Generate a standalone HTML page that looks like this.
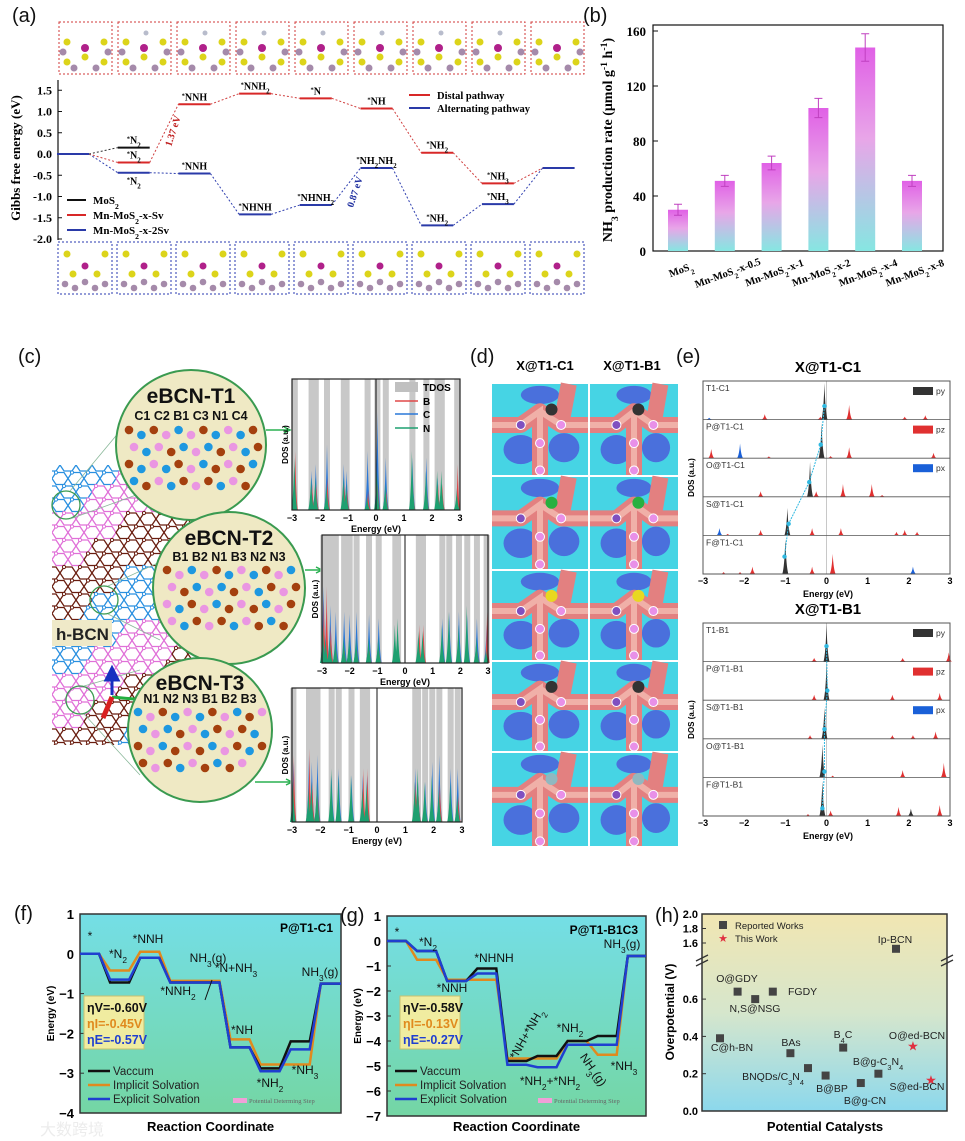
<!DOCTYPE html>
<html><head><meta charset="utf-8">
<style>
body{margin:0;background:#fff;width:965px;height:1141px;overflow:hidden}
svg{display:block;font-family:"Liberation Sans",sans-serif}
</style></head>
<body>
<svg id="fig" width="965" height="1141" viewBox="0 0 965 1141" xmlns="http://www.w3.org/2000/svg">
<defs>
<linearGradient id="barGrad" x1="0" y1="0" x2="0" y2="1"><stop offset="0" stop-color="#e060e6"/><stop offset="0.45" stop-color="#e8a6e8"/><stop offset="1" stop-color="#86e6e2"/></linearGradient>
<linearGradient id="fgBg" x1="0" y1="0" x2="0" y2="1"><stop offset="0" stop-color="#74dee6"/><stop offset="1" stop-color="#74d6a4"/></linearGradient>
<linearGradient id="hBg" x1="0" y1="0" x2="0" y2="1"><stop offset="0" stop-color="#f1e6b2"/><stop offset="0.5" stop-color="#d6e6cc"/><stop offset="1" stop-color="#8cd8ec"/></linearGradient>
<clipPath id="latClip"><rect x="52" y="465" width="140" height="280"/></clipPath>
</defs>
<g font-size="20" fill="#111">
<text x="12" y="22">(a)</text>
<text x="583" y="22">(b)</text>
<text x="18" y="363">(c)</text>
<text x="470" y="363">(d)</text>
<text x="676" y="363">(e)</text>
<text x="14" y="920">(f)</text>
<text x="340" y="922">(g)</text>
<text x="655" y="922">(h)</text>
</g>
</svg>
<script>
// ---------- data ----------
const aSteps = 9;
const aRed = [0, -0.2, 1.17, 1.42, 1.31, 1.07, 0.03, -0.69, -0.33];
const aBlue = [0, -0.44, -0.46, -1.42, -1.2, -0.33, -1.68, -1.18, -0.33];
const aBlack = [0, 0.15];
const aRedLabels = ['', '*N2', '*NNH', '*NNH2', '*N', '*NH', '*NH2', '*NH3', ''];
const aBlueLabels = ['', '*N2', '*NNH', '*NHNH', '*NHNH2', '*NH2NH2', '*NH2', '*NH3', ''];
const aTicks = [1.5, 1.0, 0.5, 0.0, -0.5, -1.0, -1.5, -2.0];

const bCats = ['MoS2', 'Mn-MoS2-x-0.5', 'Mn-MoS2-x-1', 'Mn-MoS2-x-2', 'Mn-MoS2-x-4', 'Mn-MoS2-x-8'];
const bVals = [30, 51, 64, 104, 148, 51];
const bErr = [4, 4, 5, 7, 10, 4];
const bTicks = [0, 40, 80, 120, 160];

const dos1E = [-2.9, -2.3, -2.15, -1.75, -1.15, -1.05, -0.3, 0.05, 0.35, 1.3, 1.8, 2.2, 2.35, 2.9];
const dos1B = [0.45, 0.2, 0.2, 0.25, 0.2, 0.15, 0.15, 0.2, 0.15, 0.2, 0.15, 0.2, 0.2, 0.35];
const dos1C = [0.3, 0.3, 0.35, 0.5, 0.35, 0.3, 0.45, 0.75, 0.4, 0.4, 0.4, 0.25, 0.2, 0.2];
const dos1N = [0.4, 0.25, 0.25, 0.2, 0.25, 0.2, 0.1, 0.3, 0.2, 0.45, 0.3, 0.3, 0.3, 0.15];
const dos2E = [-2.95, -2.85, -2.7, -2.5, -2.2, -2.0, -1.75, -1.3, -0.95, -0.35, -0.25, 0.5, 0.65, 1.35, 1.6, 1.95, 2.25, 2.6, 2.95];
const dos2B = [0.5, 0.6, 0.3, 0.1, 0.1, 0.1, 0.1, 0.1, 0.1, 0.1, 0.1, 0.3, 0.3, 0.1, 0.1, 0.1, 0.1, 0.1, 0.4];
const dos2C = [0.6, 0.4, 0.45, 0.4, 0.4, 0.38, 0.4, 0.38, 0.35, 0.1, 0.1, 0.2, 0.2, 0.35, 0.4, 0.4, 0.38, 0.35, 0.3];
const dos2N = [0.3, 0.2, 0.2, 0.2, 0.2, 0.2, 0.2, 0.2, 0.2, 0.3, 0.35, 0.25, 0.25, 0.3, 0.4, 0.3, 0.45, 0.2, 0.1];
const dos3E = [-2.95, -2.4, -2.3, -2.1, -1.6, -1.35, -0.9, -0.5, -0.35, 1.35, 1.45, 1.7, 1.95, 2.2, 2.6, 2.85];
const dos3B = [0.5, 0.55, 0.3, 0.2, 0.1, 0.1, 0.1, 0.4, 0.4, 0.3, 0.2, 0.1, 0.1, 0.3, 0.1, 0.2];
const dos3C = [0.45, 0.5, 0.45, 0.5, 0.35, 0.4, 0.35, 0.35, 0.35, 0.4, 0.3, 0.3, 0.45, 0.5, 0.4, 0.4];
const dos3N = [0.3, 0.25, 0.3, 0.3, 0.4, 0.35, 0.35, 0.25, 0.3, 0.3, 0.4, 0.3, 0.35, 0.25, 0.3, 0.2];

const eC1Names = ['T1-C1', 'P@T1-C1', 'O@T1-C1', 'S@T1-C1', 'F@T1-C1'];
const eC1Py = [[[-0.05, 1.0]], [[-0.12, 0.95]], [[-0.4, 0.95]], [[-0.95, 0.75]], [[-1.0, 0.95]]];
const eC1Pz = [[[-1.5, 0.15], [0.55, 0.4], [1.9, 0.08], [2.4, 0.12], [-0.15, 0.08]],
  [[-2.8, 0.25], [-1.4, 0.05], [0.1, 0.06], [0.55, 0.3], [2.6, 0.15]],
  [[-1.6, 0.15], [-0.25, 0.15], [0.4, 0.35], [1.1, 0.35], [1.35, 0.05]],
  [[-2.4, 0.04], [-1.6, 0.15], [-0.35, 0.2], [0.35, 0.2], [1.7, 0.1], [1.9, 0.15], [2.2, 0.1]],
  [[-2.5, 0.05], [-2.1, 0.05], [-1.8, 0.2], [-0.35, 0.2], [0.15, 0.55]]];
const eC1Px = [[[-2.85, 0.05]], [[-2.1, 0.4]], [[-0.4, 0.15]], [[-2.6, 0.2]], [[-1.0, 0.5], [2.1, 0.2]]];
const eC1Dot = [[-0.05, 0.35], [-0.14, 0.35], [-0.42, 0.38], [-0.92, 0.3], [-1.02, 0.45]];
const eB1Names = ['T1-B1', 'P@T1-B1', 'S@T1-B1', 'O@T1-B1', 'F@T1-B1'];
const eB1Py = [[[0, 1.0]], [[0, 0.95]], [[-0.05, 0.85]], [[-0.1, 0.9]], [[-0.1, 0.95], [2.05, 0.2]]];
const eB1Pz = [[[-0.3, 0.1], [1.85, 0.1], [2.97, 0.25]], [[-0.3, 0.15], [1.6, 0.15], [2.75, 0.2]],
  [[-0.4, 0.1], [1.6, 0.1], [2.1, 0.1], [2.65, 0.2]], [[0.15, 0.05], [1.85, 0.2], [2.85, 0.4]],
  [[-0.45, 0.05], [0.1, 0.15], [1.75, 0.25], [2.75, 0.3]]];
const eB1Px = [[], [], [], [], [[-0.1, 0.3]]];
const eB1Dot = [[0, 0.4], [0.02, 0.25], [-0.05, 0.25], [-0.05, 0.15], [-0.1, 0.2]];
const eTicks = [-3, -2, -1, 0, 1, 2, 3];

const fVac = [0, -0.72, -0.1, -0.72, -0.72, -2.35, -2.88, -2.2, -0.75];
const fImp = [0, -0.42, 0.05, -0.68, -0.68, -2.15, -2.78, -2.78, -0.75];
const fExp = [0, -0.65, -0.1, -0.72, -0.72, -2.35, -2.95, -2.4, -0.75];
const fTicks = [1, 0, -1, -2, -3, -4];
const gVac = [0, -0.4, -1.6, -1.1, -4.8, -4.6, -4.0, -3.8, -0.6];
const gImp = [0, -0.75, -1.55, -1.55, -4.7, -4.7, -4.0, -4.55, -0.6];
const gExp = [0, -0.4, -1.6, -1.3, -4.95, -5.05, -4.15, -4.15, -0.6];
const gTicks = [1, 0, -1, -2, -3, -4, -5, -6, -7];

const hNames = ['C@h-BN', 'O@GDY', 'N,S@NSG', 'FGDY', 'BAs', 'BNQDs/C3N4', 'B@BP', 'B4C', 'B@g-CN', 'B@g-C3N4', 'Ip-BCN'];
const hVals = [0.39, 0.64, 0.60, 0.64, 0.31, 0.23, 0.19, 0.34, 0.15, 0.20, 1.52];
const hStarNames = ['O@ed-BCN', 'S@ed-BCN'];
const hStarVals = [0.35, 0.17];
const hTicksLow = [0.0, 0.2, 0.4, 0.6];
const hTicksHigh = [1.6, 1.8, 2.0];

// ---------- helpers ----------
const NS = 'http://www.w3.org/2000/svg';
const fig = document.getElementById('fig');
function shape(tag, attrs, name, parent) {
  const e = document.createElementNS(NS, tag);
  for (const k in attrs) e.setAttribute(k, attrs[k]);
  
  
  (parent || fig).appendChild(e);
  return e;
}
function group(name, parent) {
  const g = document.createElementNS(NS, 'g');
  
  
  (parent || fig).appendChild(g);
  return g;
}
function txt(x, y, html, attrs, name, parent) {
  const e = document.createElementNS(NS, 'text');
  e.setAttribute('x', x); e.setAttribute('y', y);
  for (const k in attrs) e.setAttribute(k, attrs[k]);
  
  
  e.innerHTML = html;
  (parent || fig).appendChild(e);
  return e;
}
function chem(s, supStar) {
  let out = s.replace(/([A-Za-z\)])(\d+)/g, '$1<tspan baseline-shift="sub" font-size="70%">$2</tspan>');
  if (supStar) out = out.replace(/\*/g, '<tspan baseline-shift="super" font-size="65%">*</tspan>');
  return out;
}
function peak(x, base, h, w, fill, name, p) {
  return shape('path', {d: `M${x - w} ${base} Q${x - w * 0.3} ${base - h * 0.2} ${x} ${base - h} Q${x + w * 0.3} ${base - h * 0.2} ${x + w} ${base} Z`, fill: fill}, name, p);
}

// ---------- panel (a) ----------
const pa = group('panel-a-energy-diagram');
const yA = v => 154 - v * 42.5;
const xA = i => 57 + i * 60.7;
const wA = 32;
for (let i = 0; i < aSteps; i++) {
  const bx = 59 + i * 59, gt = group('structure-top-' + i, pa), gb = group('structure-bottom-' + i, pa);
  shape('rect', {x: bx, y: 22, width: 53, height: 52, fill: '#fff', stroke: '#d23a3a', 'stroke-dasharray': '2 2'}, 'distal-structure-box', gt);
  shape('rect', {x: bx - 1, y: 242, width: 54, height: 52, fill: '#fff', stroke: '#2a3ab0', 'stroke-dasharray': '2 2'}, 'alternating-structure-box', gb);
  [[8, 20], [45, 20], [26, 35], [8, 40], [45, 40]].forEach(p => shape('circle', {cx: bx + p[0], cy: 22 + p[1], r: 3.5, fill: '#dcd41a'}, 'atom', gt));
  shape('circle', {cx: bx + 26, cy: 22 + 26, r: 4, fill: '#b0208a'}, 'mn-atom', gt);
  [[4, 30], [49, 30], [15, 46], [37, 46]].forEach(p => shape('circle', {cx: bx + p[0], cy: 22 + p[1], r: 3.5, fill: '#a58aaa'}, 'atom', gt));
  if (i > 0 && i < 8) shape('circle', {cx: bx + 28, cy: 22 + 11, r: 2.5, fill: '#b8bccc'}, 'adsorbate-atom', gt);
  [[8, 12], [46, 12], [26, 24], [14, 32], [38, 32]].forEach((p, k) => shape('circle', {cx: bx + p[0], cy: 242 + p[1], r: 3.5, fill: k === 2 ? '#b0208a' : '#dcd41a'}, 'atom', gb));
  [[6, 42], [26, 40], [46, 42], [16, 46], [36, 46]].forEach(p => shape('circle', {cx: bx + p[0], cy: 242 + p[1], r: 3.3, fill: '#a58aaa'}, 'atom', gb));
}
shape('line', {x1: 58, y1: 80, x2: 58, y2: 240, stroke: '#111', 'stroke-width': 1.2}, 'a-y-axis', pa);
aTicks.forEach(t => {
  shape('line', {x1: 58, y1: yA(t), x2: 62, y2: yA(t), stroke: '#111'}, 'a-y-tick', pa);
  txt(52, yA(t) + 4, t.toFixed(1), {'font-family': 'Liberation Serif', 'font-weight': 'bold', 'font-size': 12, 'text-anchor': 'end'}, 'a-y-tick-label', pa);
});
txt(0, 0, 'Gibbs free energy (eV)', {'font-family': 'Liberation Serif', 'font-weight': 'bold', 'font-size': 13, 'text-anchor': 'middle', transform: 'translate(20,158) rotate(-90)'}, 'a-y-axis-title', pa);
for (let i = 0; i < aSteps - 1; i++) {
  shape('line', {x1: xA(i) + wA, y1: yA(aBlue[i]), x2: xA(i + 1), y2: yA(aBlue[i + 1]), stroke: '#3040b0', 'stroke-dasharray': '2 2'}, 'alternating-connector', pa);
  shape('line', {x1: xA(i) + wA, y1: yA(aRed[i]), x2: xA(i + 1), y2: yA(aRed[i + 1]), stroke: '#d04040', 'stroke-dasharray': '2 2'}, 'distal-connector', pa);
}
shape('line', {x1: xA(0) + wA, y1: yA(aBlack[0]), x2: xA(1), y2: yA(aBlack[1]), stroke: '#333', 'stroke-dasharray': '2 2'}, 'mos2-connector', pa);
for (let i = 0; i < aSteps; i++) {
  shape('line', {x1: xA(i), y1: yA(aBlue[i]), x2: xA(i) + wA, y2: yA(aBlue[i]), stroke: '#2a3aa8', 'stroke-width': 2}, 'alternating-level', pa);
  if (i > 0 && i < 8) shape('line', {x1: xA(i), y1: yA(aRed[i]), x2: xA(i) + wA, y2: yA(aRed[i]), stroke: '#d82828', 'stroke-width': 2}, 'distal-level', pa);
  const lbStyle = {'font-family': 'Liberation Serif', 'font-weight': 'bold', 'font-size': 10, 'text-anchor': 'middle'};
  if (aRedLabels[i]) txt(xA(i) + wA / 2, yA(aRed[i]) - 4, chem(aRedLabels[i], true), lbStyle, 'distal-level-label', pa);
  if (aBlueLabels[i]) txt(xA(i) + wA / 2, i === 1 ? yA(aBlue[i]) + 12 : yA(aBlue[i]) - 4, chem(aBlueLabels[i], true), lbStyle, 'alternating-level-label', pa);
}
shape('line', {x1: xA(1), y1: yA(aBlack[1]), x2: xA(1) + wA, y2: yA(aBlack[1]), stroke: '#111', 'stroke-width': 2}, 'mos2-level', pa);
txt(xA(1) + wA / 2, yA(aBlack[1]) - 4, chem('*N2', true), {'font-family': 'Liberation Serif', 'font-weight': 'bold', 'font-size': 10, 'text-anchor': 'middle'}, 'mos2-level-label', pa);
txt(0, 0, '1.37 eV', {'font-family': 'Liberation Serif', 'font-weight': 'bold', 'font-size': 10, fill: '#c02020', 'text-anchor': 'middle', transform: 'translate(176,132) rotate(-72)'}, 'distal-pds-label', pa);
txt(0, 0, '0.87 eV', {'font-family': 'Liberation Serif', 'font-weight': 'bold', 'font-size': 10, fill: '#2030a0', 'text-anchor': 'middle', transform: 'translate(358,193) rotate(-72)'}, 'alternating-pds-label', pa);
[['MoS2', '#111', 200], ['Mn-MoS2-x-Sv', '#d82828', 215], ['Mn-MoS2-x-2Sv', '#2a3aa8', 230]].forEach(l => {
  shape('line', {x1: 67, y1: l[2], x2: 86, y2: l[2], stroke: l[1], 'stroke-width': 2}, 'a-legend-line', pa);
  txt(93, l[2] + 4, chem(l[0], false), {'font-family': 'Liberation Serif', 'font-weight': 'bold', 'font-size': 11}, 'a-legend-label', pa);
});
[['Distal  pathway', '#d82828', 95], ['Alternating pathway', '#2a3aa8', 108]].forEach(l => {
  shape('line', {x1: 409, y1: l[2], x2: 430, y2: l[2], stroke: l[1], 'stroke-width': 2}, 'a-legend-line', pa);
  txt(437, l[2] + 4, l[0], {'font-family': 'Liberation Serif', 'font-weight': 'bold', 'font-size': 10.5}, 'a-legend-label', pa);
});

// ---------- panel (b) ----------
const pb = group('panel-b-bar-chart');
const yB = v => 251 - v * (220 / 160);
const xB = i => 678 + i * 46.8;
shape('rect', {x: 653, y: 25, width: 290, height: 226, fill: 'none', stroke: '#111', 'stroke-width': 1.2}, 'b-plot-frame', pb);
bTicks.forEach(t => {
  shape('line', {x1: 653, y1: yB(t), x2: 658, y2: yB(t), stroke: '#111'}, 'b-y-tick', pb);
  txt(646, yB(t) + 5, t, {'font-family': 'Liberation Serif', 'font-weight': 'bold', 'font-size': 13, 'text-anchor': 'end'}, 'b-y-tick-label', pb);
});
txt(0, 0, 'NH<tspan baseline-shift="sub" font-size="70%">3</tspan> production rate (μmol g<tspan baseline-shift="super" font-size="70%">-1</tspan> h<tspan baseline-shift="super" font-size="70%">-1</tspan>)', {'font-family': 'Liberation Serif', 'font-weight': 'bold', 'font-size': 14, 'text-anchor': 'middle', transform: 'translate(612,140) rotate(-90)'}, 'b-y-axis-title', pb);
bVals.forEach((v, i) => {
  shape('rect', {x: xB(i) - 10, y: yB(v), width: 20, height: 251 - yB(v), fill: 'url(#barGrad)'}, 'bar-' + i, pb);
  shape('path', {d: `M${xB(i)} ${yB(v + bErr[i])} V${yB(v - bErr[i])} M${xB(i) - 4} ${yB(v + bErr[i])} H${xB(i) + 4} M${xB(i) - 4} ${yB(v - bErr[i])} H${xB(i) + 4}`, stroke: '#c040c0', fill: 'none'}, 'error-bar', pb);
  txt(0, 0, chem(bCats[i], false), {'font-family': 'Liberation Serif', 'font-weight': 'bold', 'font-size': 10.5, 'text-anchor': 'middle', transform: `translate(${xB(i) + 4},${i === 0 ? 273 : 276}) rotate(-20)`}, 'b-category-label', pb);
});

// ---------- panel (c) ----------
const pc = group('panel-c-bcn');
const lat = group('h-bcn-lattice', pc);
lat.setAttribute('clip-path', 'url(#latClip)');
const latCols = ['#2a90e0', '#e070d8', '#6a1e10'];
for (let r = 0; r < 22; r++) {
  for (let c = 0; c < 10; c++) {
    const cx = 52 + c * 16 + (r % 2) * 8, cy = 465 + r * 13.5;
    const col = latCols[Math.floor(r / 4 + c / 5) % 3];
    shape('path', {d: `M${cx - 8} ${cy} L${cx - 4} ${cy - 6} L${cx + 4} ${cy - 6} L${cx + 8} ${cy} L${cx + 4} ${cy + 6} L${cx - 4} ${cy + 6} Z`, fill: 'none', stroke: col, 'stroke-width': 1.3}, 'lattice-ring', lat);
    shape('circle', {cx: cx - 4, cy: cy - 6, r: 1.6, fill: '#fff', stroke: col}, 'lattice-atom', lat);
  }
}
[[66, 505], [104, 600], [80, 700]].forEach(p => shape('circle', {cx: p[0], cy: p[1], r: 14, fill: 'none', stroke: '#3a9a50', 'stroke-width': 1.3}, 'lattice-highlight', pc));
shape('path', {d: 'M70 491 L150 395 M70 519 L150 490 M108 586 L175 555 M108 614 L160 640 M84 686 L140 670 M84 714 L140 775', stroke: '#8ab89a', 'stroke-width': 0.8, fill: 'none'}, 'zoom-guide-lines', pc);
shape('rect', {x: 52, y: 620, width: 60, height: 26, fill: '#efe9c8'}, 'h-bcn-label-bg', pc);
txt(56, 640, 'h-BCN', {'font-size': 17, 'font-weight': 'bold', fill: '#222'}, 'h-bcn-label', pc);
shape('path', {d: 'M112 695 V672 M106 680 L112 668 L118 680 Z', stroke: '#1830c0', fill: '#1830c0', 'stroke-width': 3}, 'axis-arrow-z', pc);
shape('path', {d: 'M112 697 L145 700 M140 694 L152 701 L140 707 Z', stroke: '#22b040', fill: '#22b040', 'stroke-width': 3}, 'axis-arrow-x', pc);
shape('path', {d: 'M112 697 L103 718', stroke: '#d82020', 'stroke-width': 5}, 'axis-arrow-y', pc);
const circ = [
  {cx: 191, cy: 445, r: 75, lab: 'C1 C2 B1 C3 N1 C4', ty: 403, ly: 420, ay: 430},
  {cx: 229, cy: 588, r: 76, lab: 'B1 B2 N1 B3 N2 N3', ty: 545, ly: 561, ay: 570},
  {cx: 200, cy: 730, r: 72, lab: 'N1 N2 N3 B1 B2 B3', ty: 690, ly: 703, ay: 712}];
const atomCol = {b: '#a4400e', c: '#1e98e0', p: '#ea96e2'};
const seq = 'bcbpcpbcpcbpcbpbcp';
circ.forEach((c, k) => {
  const g = group('ebcn-t' + (k + 1) + '-circle', pc);
  shape('circle', {cx: c.cx, cy: c.cy, r: c.r, fill: '#efe9c4', stroke: '#3a9a50', 'stroke-width': 2}, 'structure-circle', g);
  txt(c.cx, c.ty, 'eBCN-T' + (k + 1), {'font-size': 21, 'font-weight': 'bold', 'text-anchor': 'middle', fill: '#111'}, 'structure-title', g);
  txt(c.cx, c.ly, c.lab, {'font-size': 12.5, 'font-weight': 'bold', 'text-anchor': 'middle', fill: '#111'}, 'site-labels', g);
  for (let row = 0; row < 4; row++) {
    for (let j = 0; j < 11; j++) {
      const ax = c.cx - 62 + j * 12.4 + (row % 2) * 5, ay = c.ay + row * 17 + (j % 2) * 5;
      if (Math.hypot(ax - c.cx, ay - c.cy) > c.r - 6) continue;
      shape('circle', {cx: ax, cy: ay, r: 4.3, fill: atomCol[seq[(j + row * 3 + k * 2) % seq.length]]}, 'atom', g);
    }
  }
});
shape('path', {d: 'M266 430 H288 M284 427 L290 430 L284 433', stroke: '#2ab050', fill: 'none', 'stroke-width': 1.5}, 'arrow-to-dos1', pc);
shape('path', {d: 'M305 570 H320 M316 567 L322 570 L316 573', stroke: '#2ab050', fill: 'none', 'stroke-width': 1.5}, 'arrow-to-dos2', pc);
shape('path', {d: 'M255 782 H290 M286 779 L292 782 L286 785', stroke: '#2ab050', fill: 'none', 'stroke-width': 1.5}, 'arrow-to-dos3', pc);
function dosPlot(x0, y0, w, h, E, B, C, N, name, legend) {
  const g = group(name, pc);
  const xs = e => x0 + (e + 3) / 6 * w;
  shape('rect', {x: x0, y: y0, width: w, height: h, fill: '#fff'}, 'dos-background', g);
  E.forEach(e => shape('rect', {x: xs(e) - 3, y: y0, width: 6, height: h, fill: '#c8c8c8'}, 'tdos-band', g));
  E.forEach((e, i) => {
    peak(xs(e), y0 + h, C[i] * h, 3, '#2a78d8', 'dos-c-peak', g);
    peak(xs(e) + 0.5, y0 + h, B[i] * h, 2.5, '#e04848', 'dos-b-peak', g);
    peak(xs(e) - 0.5, y0 + h, N[i] * h, 3, '#1ea070', 'dos-n-peak', g);
  });
  shape('line', {x1: xs(0), y1: y0, x2: xs(0), y2: y0 + h, stroke: '#111'}, 'fermi-line', g);
  shape('rect', {x: x0, y: y0, width: w, height: h, fill: 'none', stroke: '#222', 'stroke-width': 1.2}, 'dos-frame', g);
  eTicks.forEach(t => txt(xs(t), y0 + h + 11, t < 0 ? '−' + Math.abs(t) : t, {'font-size': 9, 'font-weight': 'bold', 'text-anchor': 'middle'}, 'dos-x-tick-label', g));
  txt(x0 + w / 2, y0 + h + 22, 'Energy (eV)', {'font-size': 9, 'font-weight': 'bold', 'text-anchor': 'middle'}, 'dos-x-axis-title', g);
  txt(0, 0, 'DOS (a.u.)', {'font-size': 8, 'font-weight': 'bold', 'text-anchor': 'middle', transform: `translate(${x0 - 4},${y0 + h / 2}) rotate(-90)`}, 'dos-y-axis-title', g);
  if (legend) {
    shape('rect', {x: 395, y: 382, width: 23, height: 10, fill: '#c0c0c0'}, 'legend-tdos', g);
    txt(423, 391, 'TDOS', {'font-size': 10, 'font-weight': 'bold'}, 'legend-tdos-label', g);
    [['B', '#e04848', 401], ['C', '#2a78d8', 414], ['N', '#1ea070', 428]].forEach(l => {
      shape('line', {x1: 395, y1: l[2], x2: 418, y2: l[2], stroke: l[1], 'stroke-width': 1.5}, 'legend-line', g);
      txt(423, l[2] + 4, l[0], {'font-size': 10, 'font-weight': 'bold'}, 'legend-label', g);
    });
  }
}
dosPlot(292, 379, 168, 131, dos1E, dos1B, dos1C, dos1N, 'dos-t1', true);
dosPlot(322, 535, 166, 128, dos2E, dos2B, dos2C, dos2N, 'dos-t2', false);
dosPlot(292, 688, 170, 134, dos3E, dos3B, dos3C, dos3N, 'dos-t3', false);

// ---------- panel (d) ----------
const pd = group('panel-d-charge-density');
txt(545, 370, 'X@T1-C1', {'font-size': 13, 'font-weight': 'bold', 'text-anchor': 'middle'}, 'd-column-title-c1', pd);
txt(632, 370, 'X@T1-B1', {'font-size': 13, 'font-weight': 'bold', 'text-anchor': 'middle'}, 'd-column-title-b1', pd);
const dRows = [384, 477, 571, 662, 753, 848];
const dCenter = ['#333', '#28b040', '#e8d820', '#333', '#90b8c0'];
for (let r = 0; r < 5; r++) {
  [[492, 96], [590, 88]].forEach((col, c) => {
    const g = group('density-map-' + r + '-' + c, pd);
    const x = col[0], y = dRows[r], w = col[1], h = dRows[r + 1] - dRows[r] - 2;
    shape('rect', {x: x, y: y, width: w, height: h, fill: '#46d4e4'}, 'density-bg', g);
    shape('ellipse', {cx: x + w * 0.3, cy: y + h * 0.72, rx: w * 0.18, ry: h * 0.16, fill: '#4a70dc'}, 'density-low', g);
    shape('ellipse', {cx: x + w * 0.75, cy: y + h * 0.7, rx: w * 0.16, ry: h * 0.16, fill: '#4a70dc'}, 'density-low', g);
    shape('ellipse', {cx: x + w * 0.5, cy: y + h * 0.12, rx: w * 0.2, ry: h * 0.1, fill: '#4a70dc'}, 'density-low', g);
    shape('path', {d: `M${x} ${y + h * 0.45} L${x + w * 0.3} ${y + h * 0.45} L${x + w * 0.5} ${y + h * 0.3} L${x + w * 0.5} ${y + h} M${x + w * 0.5} ${y + h * 0.3} L${x + w * 0.72} ${y + h * 0.45} L${x + w} ${y + h * 0.45} M${x + w * 0.72} ${y + h * 0.45} L${x + w * 0.8} ${y}`, stroke: '#e38080', 'stroke-width': 16, fill: 'none', 'stroke-linejoin': 'round'}, 'density-high', g);
    shape('path', {d: `M${x} ${y + h * 0.45} L${x + w * 0.3} ${y + h * 0.45} L${x + w * 0.5} ${y + h * 0.3} L${x + w * 0.5} ${y + h} M${x + w * 0.5} ${y + h * 0.3} L${x + w * 0.72} ${y + h * 0.45} L${x + w} ${y + h * 0.45}`, stroke: '#f0b0a8', 'stroke-width': 6, fill: 'none'}, 'density-core', g);
    [[0.3, 0.45, '#8050c0'], [0.72, 0.45, '#e890e8'], [0.5, 0.65, '#e890e8'], [0.5, 0.95, '#e890e8']].forEach(a => shape('circle', {cx: x + w * a[0], cy: y + h * a[1], r: 4.5, fill: a[2], stroke: '#fff', 'stroke-width': 1}, 'atom', g));
    shape('circle', {cx: x + w * (c ? 0.55 : 0.62), cy: y + h * 0.28, r: 6, fill: dCenter[r]}, 'dopant-atom', g);
  });
}

// ---------- panel (e) ----------
const pe = group('panel-e-pdos');
function ePlot(y0, title, names, py, pz, px, dots, gname) {
  const g = group(gname, pe);
  const x0 = 703, w = 247, h = 193, rh = h / 5;
  const xs = e => x0 + (e + 3) / 6 * w;
  txt(828, y0 - 9, title, {'font-size': 15, 'font-weight': 'bold', 'text-anchor': 'middle'}, 'e-plot-title', g);
  shape('line', {x1: xs(0), y1: y0, x2: xs(0), y2: y0 + h, stroke: '#bbb', 'stroke-width': 0.8}, 'fermi-line', g);
  const dp = [];
  for (let r = 0; r < 5; r++) {
    const base = y0 + (r + 1) * rh;
    pz[r].forEach(p => peak(xs(p[0]), base, p[1] * rh * 0.95, 3, '#e03030', 'pz-peak', g));
    px[r].forEach(p => peak(xs(p[0]), base, p[1] * rh * 0.95, 3, '#1a60d8', 'px-peak', g));
    py[r].forEach(p => peak(xs(p[0]), base, p[1] * rh * 0.95, 3, '#333', 'py-peak', g));
    shape('line', {x1: x0, y1: base, x2: x0 + w, y2: base, stroke: '#555', 'stroke-width': 0.8}, 'row-separator', g);
    txt(x0 + 3, y0 + r * rh + 10, names[r], {'font-size': 8.5, fill: '#333'}, 'row-label', g);
    dp.push([xs(dots[r][0]), base - dots[r][1] * rh]);
  }
  shape('polyline', {points: dp.map(p => p.join(',')).join(' '), fill: 'none', stroke: '#30b8e0', 'stroke-width': 1, 'stroke-dasharray': '2 1'}, 'trend-line', g);
  dp.forEach(p => shape('circle', {cx: p[0], cy: p[1], r: 2.2, fill: '#30b8e0'}, 'trend-point', g));
  shape('rect', {x: x0, y: y0, width: w, height: h, fill: 'none', stroke: '#555', 'stroke-width': 1}, 'e-plot-frame', g);
  [['py', '#333'], ['pz', '#e03030'], ['px', '#1a60d8']].forEach((l, k) => {
    shape('rect', {x: 913, y: y0 + 6 + k * rh, width: 20, height: 8, fill: l[1]}, 'legend-swatch', g);
    txt(936, y0 + 13 + k * rh, l[0], {'font-size': 8.5, fill: '#333'}, 'legend-label', g);
  });
  eTicks.forEach(t => txt(xs(t), y0 + h + 10, t < 0 ? '−' + Math.abs(t) : t, {'font-size': 9, 'font-weight': 'bold', 'text-anchor': 'middle'}, 'e-x-tick-label', g));
  txt(828, y0 + h + 23, 'Energy (eV)', {'font-size': 9, 'font-weight': 'bold', 'text-anchor': 'middle'}, 'e-x-axis-title', g);
  txt(0, 0, 'DOS (a.u.)', {'font-size': 8, 'font-weight': 'bold', 'text-anchor': 'middle', transform: `translate(694,${y0 + h / 2}) rotate(-90)`}, 'e-y-axis-title', g);
}
ePlot(381, 'X@T1-C1', eC1Names, eC1Py, eC1Pz, eC1Px, eC1Dot, 'pdos-c1');
ePlot(623, 'X@T1-B1', eB1Names, eB1Py, eB1Pz, eB1Px, eB1Dot, 'pdos-b1');

// ---------- panels (f) (g) ----------
function profile(x0, x1, yTop, yBot, vMax, vMin, ticks, series, gname, eta, boxX, labels, title) {
  const g = group(gname);
  const ys = v => yTop + (vMax - v) / (vMax - vMin) * (yBot - yTop);
  const dx = 30.1, w = 19;
  shape('rect', {x: x0, y: yTop, width: x1 - x0, height: yBot - yTop, fill: 'url(#fgBg)', stroke: '#333', 'stroke-width': 1.5}, 'plot-background', g);
  ticks.forEach(t => {
    shape('line', {x1: x0, y1: ys(t), x2: x0 + 4, y2: ys(t), stroke: '#333'}, 'y-tick', g);
    txt(x0 - 6, ys(t) + 5, t < 0 ? '−' + Math.abs(t) : t, {'font-size': 13, 'font-weight': 'bold', 'text-anchor': 'end'}, 'y-tick-label', g);
  });
  txt(0, 0, 'Energy (eV)', {'font-size': 10, 'font-weight': 'bold', 'text-anchor': 'middle', transform: `translate(${x0 - 26},${(yTop + yBot) / 2}) rotate(-90)`}, 'y-axis-title', g);
  txt((x0 + x1) / 2, 1131, 'Reaction Coordinate', {'font-size': 13, 'font-weight': 'bold', 'text-anchor': 'middle'}, 'x-axis-title', g);
  series.forEach(s => {
    const pts = [];
    s.vals.forEach((v, i) => {
      const xa = x0 + i * dx, xb = (i === s.vals.length - 1) ? x1 : xa + w;
      pts.push([i === 0 ? x0 : xa, ys(v)]);
      pts.push([xb, ys(v)]);
    });
    shape('polyline', {points: pts.map(p => p.join(',')).join(' '), fill: 'none', stroke: s.color, 'stroke-width': 2.5}, s.name, g);
  });
  shape('rect', {x: boxX, y: 996, width: 60, height: 53, fill: '#f0eca0', stroke: '#c8c070'}, 'overpotential-box', g);
  eta.forEach((e, k) => txt(boxX + 3, 1012 + k * 16, e[0], {'font-size': 12.5, 'font-weight': 'bold', fill: e[1]}, 'overpotential-value', g));
  [['Vaccum', '#111'], ['Implicit Solvation', '#e08a1e'], ['Explicit Solvation', '#1f3fd0']].forEach((l, k) => {
    shape('line', {x1: x0 + 8, y1: 1071 + k * 14, x2: x0 + 30, y2: 1071 + k * 14, stroke: l[1], 'stroke-width': 2.5}, 'legend-line', g);
    txt(x0 + 33, 1075 + k * 14, l[0], {'font-size': 11.5, fill: '#222'}, 'legend-label', g);
  });
  shape('rect', {x: x1 - 108, y: 1098, width: 14, height: 5, fill: '#f0a0d8'}, 'pds-legend-swatch', g);
  txt(x1 - 92, 1103, 'Potential  Determing Step', {'font-family': 'Liberation Serif', 'font-size': 6.5, fill: '#666'}, 'pds-legend-label', g);
  txt(x1 - 8, yTop + 18, title, {'font-size': 12, 'font-weight': 'bold', 'text-anchor': 'end'}, 'plot-title', g);
  labels.forEach(l => txt(l[1], l[2], chem(l[0], false), {'font-size': 12, fill: '#111', 'text-anchor': 'middle', transform: l[3] ? `rotate(${l[3]} ${l[1]} ${l[2]})` : ''}, 'step-label', g));
}
profile(80, 341, 914, 1113, 1, -4, fTicks,
  [{vals: fImp, color: '#e08a1e', name: 'implicit-line'}, {vals: fVac, color: '#111', name: 'vaccum-line'}, {vals: fExp, color: '#1f3fd0', name: 'explicit-line'}],
  'panel-f-energy-profile', [['ηV=-0.60V', '#111'], ['ηI=-0.45V', '#e08a1e'], ['ηE=-0.57V', '#1f3fd0']], 84,
  [['*', 90, 940], ['*N2', 118, 958], ['*NNH', 148, 943], ['NH3(g)', 208, 962], ['*N+NH3', 236, 972], ['*NNH2', 178, 995], ['*NH', 242, 1034], ['*NH2', 270, 1087], ['*NH3', 305, 1074], ['NH3(g)', 320, 976]], 'P@T1-C1');
profile(387, 646, 916, 1116, 1, -7, gTicks,
  [{vals: gImp, color: '#e08a1e', name: 'implicit-line'}, {vals: gVac, color: '#111', name: 'vaccum-line'}, {vals: gExp, color: '#1f3fd0', name: 'explicit-line'}],
  'panel-g-energy-profile', [['ηV=-0.58V', '#111'], ['ηI=-0.13V', '#e08a1e'], ['ηE=-0.27V', '#1f3fd0']], 400,
  [['*', 397, 936], ['*N2', 428, 946], ['*NNH', 452, 992], ['*NHNH', 494, 962], ['*NH+*NH2', 530, 1036, -60], ['*NH2', 570, 1032], ['NH3(g)', 590, 1072, 55], ['*NH2+*NH2', 550, 1085], ['*NH3', 624, 1070], ['NH3(g)', 622, 948]], 'P@T1-B1C3');
shape('line', {x1: 205, y1: 1000, x2: 212, y2: 980, stroke: '#111'}, 'f-arrow', fig);
txt(40, 1135, '大数跨境', {'font-family': 'Noto Sans CJK SC, sans-serif', 'font-size': 16, fill: '#e8e8e8', opacity: 0.8}, 'watermark', fig);

// ---------- panel (h) ----------
const ph = group('panel-h-overpotential');
const yH = v => v < 1 ? 1111 - v * 186.5 : 943 - (v - 1.6) * 72.5;
const xH = i => 720 + i * 17.6;
shape('rect', {x: 702, y: 914, width: 245, height: 197, fill: 'url(#hBg)', stroke: '#333', 'stroke-width': 1.5}, 'h-plot-frame', ph);
shape('path', {d: 'M696 961 L708 955 M696 966 L708 960 M941 961 L953 955 M941 966 L953 960', stroke: '#333', 'stroke-width': 1.3}, 'axis-break-marks', ph);
hTicksLow.concat(hTicksHigh).forEach(t => {
  shape('line', {x1: 702, y1: yH(t), x2: 706, y2: yH(t), stroke: '#333'}, 'h-y-tick', ph);
  txt(698, yH(t) + 4, t.toFixed(1), {'font-size': 11, 'font-weight': 'bold', 'text-anchor': 'end'}, 'h-y-tick-label', ph);
});
txt(0, 0, 'Overpotential (V)', {'font-size': 12, 'font-weight': 'bold', 'text-anchor': 'middle', transform: 'translate(674,1012) rotate(-90)'}, 'h-y-axis-title', ph);
txt(825, 1131, 'Potential Catalysts', {'font-size': 13, 'font-weight': 'bold', 'text-anchor': 'middle'}, 'h-x-axis-title', ph);
const hLabelPos = [[732, 1051], [737, 982], [755, 1012], [788, 995, 'start'], [791, 1046], [773, 1080], [832, 1092], [843, 1038], [865, 1104], [878, 1065], [895, 943]];
hVals.forEach((v, i) => {
  shape('rect', {x: xH(i) - 4, y: yH(v) - 4, width: 8, height: 8, fill: '#444'}, 'reported-point', ph);
  const p = hLabelPos[i];
  txt(p[0], p[1], chem(hNames[i], false), {'font-size': 10.5, fill: '#222', 'text-anchor': p[2] || 'middle'}, 'reported-point-label', ph);
});
const hStarX = [913, 931];
const hStarLab = [[917, 1039], [917, 1090]];
hStarVals.forEach((v, i) => {
  txt(hStarX[i], yH(v) + 5, '★', {'font-size': 13, fill: '#e03040', 'text-anchor': 'middle'}, 'this-work-point', ph);
  txt(hStarLab[i][0], hStarLab[i][1], hStarNames[i], {'font-size': 10.5, fill: '#222', 'text-anchor': 'middle'}, 'this-work-label', ph);
});
shape('rect', {x: 719, y: 921, width: 8, height: 8, fill: '#444'}, 'legend-reported-marker', ph);
txt(735, 929, 'Reported Works', {'font-size': 9.5, fill: '#222'}, 'legend-reported-label', ph);
txt(723, 942, '★', {'font-size': 11, fill: '#e03040', 'text-anchor': 'middle'}, 'legend-this-work-marker', ph);
txt(735, 942, 'This Work', {'font-size': 9.5, fill: '#222'}, 'legend-this-work-label', ph);
</script>
</body></html>
